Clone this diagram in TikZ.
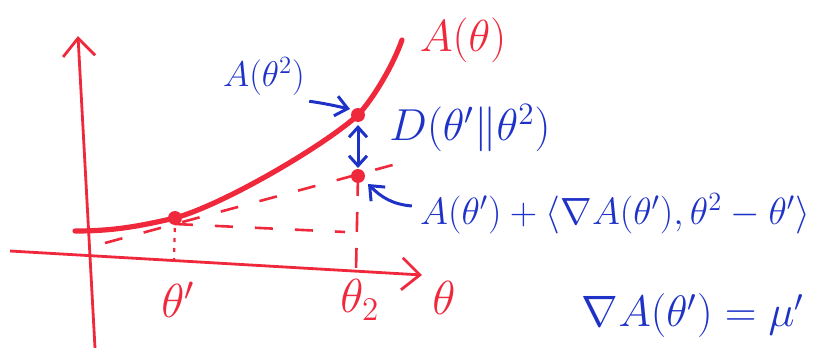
\documentclass[tikz,border=0pt]{standalone}
\usepackage{amsmath}
\usetikzlibrary{arrows.meta}
\definecolor{penred}{HTML}{F0283C}
\definecolor{penblue}{HTML}{1E32C8}
\tikzset{
  axisline/.style={draw=penred, line width=1.4pt,
    -{Straight Barb[length=9pt, width=16pt, line width=1.4pt]}},
  curveline/.style={draw=penred, line width=2.6pt, line cap=round},
  guideline/.style={draw=penred, line width=1.3pt, dash pattern=on 9pt off 11pt},
  dropline/.style={draw=penred, line width=1.1pt, dash pattern=on 2pt off 3pt},
  penarrow/.style={draw=penblue, line width=1.5pt,
    -{Straight Barb[length=6pt, width=10pt, line width=1.5pt]}},
  penboth/.style={draw=penblue, line width=1.5pt,
    {Straight Barb[length=5pt, width=9pt, line width=1.5pt]}-{Straight Barb[length=5pt, width=9pt, line width=1.5pt]}},
  redlabel/.style={text=penred, font=\fontsize{20.74}{24}\selectfont,
    inner sep=0pt, scale=#1, transform shape},
  redlabel/.default=1.15,
  bluelabel/.style={text=penblue, font=\fontsize{20.74}{24}\selectfont,
    inner sep=0pt, scale=#1, transform shape},
  bluelabel/.default=1,
  dot/.style={circle, fill=penred, inner sep=0pt, minimum size=7pt},
}
\begin{document}
\begin{tikzpicture}[x=0.5pt, y=-0.5pt]
\useasboundingbox (0,0) rectangle (816,348);
% axes
\coordinate (xbeg) at (10,251);
\coordinate (xend) at (422,275);
\coordinate (ybeg) at (95,348);
\coordinate (yend) at (78,36);
\draw[axisline] (xbeg) -- (xend);
\draw[axisline] (ybeg) -- (yend);
% the function A(theta)
\coordinate (p1) at (175,218);
\coordinate (p2) at (358,115);
\draw[curveline] (75,231) .. controls (115,231) and (140,226) .. (p1)
  .. controls (225,204) and (325,145) .. (p2)
  .. controls (372,100) and (392,68) .. (402,40);
\node[redlabel=1.08] (acurve) at (463,40) {$A(\theta)$};
% tangent at theta^1
\coordinate (tan0) at (105,243);
\coordinate (tan1) at (400,163);
\coordinate (pt) at (358,176);
\coordinate (flat) at (345,232);
\draw[guideline] (tan0) -- (tan1);
\draw[guideline] ([yshift=-3pt]p1) -- (flat);
% drops to the axis
\coordinate (foot1) at (174,261);
\coordinate (foot2) at (356,271);
\draw[dropline] (p1) -- (foot1);
\draw[guideline, dash pattern=on 10pt off 8pt] (pt) -- (foot2);
\node[dot] at (p1) {};
\node[dot] at (p2) {};
\node[dot] at (pt) {};
% axis labels
\node[redlabel] (t1) at (178,300) {$\theta^{\prime}$};
\node[redlabel] (t2) at (360,300) {$\theta_2$};
\node[redlabel] (tx) at (444,298) {$\theta$};
% annotations
\node[bluelabel=0.86] (a2) at (264,76) {$A(\theta^2)$};
\node[bluelabel=1.08] (dlab) at (470,128) {$D(\theta^{\prime}\Vert\theta^2)$};
\node[bluelabel=0.915] (tlab) at (615,214)
  {$A(\theta^{\prime})+\langle\nabla A(\theta^{\prime}),\theta^2-\theta^{\prime}\rangle$};
\node[bluelabel=1.06] (mulab) at (693,316) {$\nabla A(\theta^{\prime})=\mu^{\prime}$};
\draw[penarrow] ([shift={(2pt,-3pt)}]a2.south east) to[out=-8, in=168]
  ([shift={(-4pt,3pt)}]p2);
\draw[penboth] ([yshift=-5pt]p2) -- ([yshift=4pt]pt);
\draw[penarrow] ([shift={(-4pt,4pt)}]tlab.west) to[out=175, in=-45]
  ([shift={(5pt,-4pt)}]pt);
\end{tikzpicture}
\end{document}
